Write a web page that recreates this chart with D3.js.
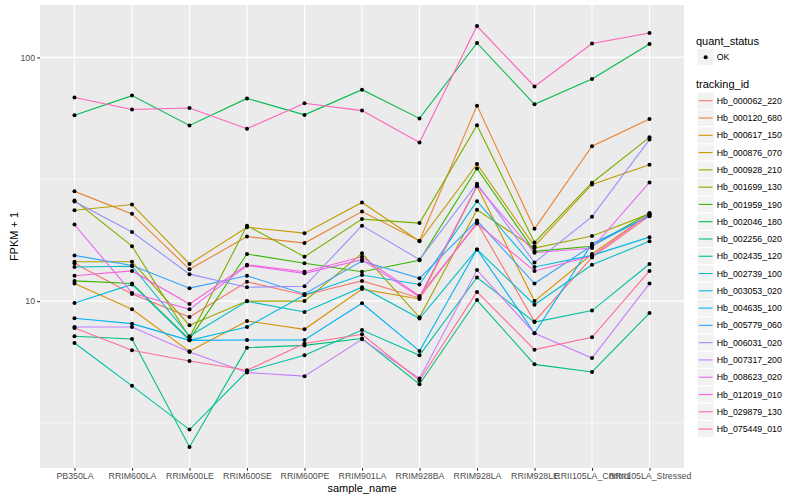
<!DOCTYPE html>
<html>
<head>
<meta charset="utf-8">
<script src="https://cdn.jsdelivr.net/npm/d3@7"></script>
<style>
  body { margin: 0; background: #fff; }
  svg { font-family: "Liberation Sans", Arial, Helvetica, sans-serif; }
</style>
</head>
<body>
<div id="chart"></div>
<script>
const samples = ["PB350LA", "RRIM600LA", "RRIM600LE", "RRIM600SE", "RRIM600PE", "RRIM901LA",
  "RRIM928BA", "RRIM928LA", "RRIM928LE", "RRII105LA_Control", "RRII105LA_Stressed"];

const trackingIds = ["Hb_000062_220", "Hb_000120_680", "Hb_000617_150", "Hb_000876_070",
  "Hb_000928_210", "Hb_001699_130", "Hb_001959_190", "Hb_002046_180", "Hb_002256_020",
  "Hb_002435_120", "Hb_002739_100", "Hb_003053_020", "Hb_004635_100", "Hb_005779_060",
  "Hb_006031_020", "Hb_007317_200", "Hb_008623_020", "Hb_012019_010", "Hb_029879_130",
  "Hb_075449_010"];

// ggplot default hue palette, 20 levels
const hueColors = ["#F8766D", "#EA8331", "#D89000", "#C09B00", "#A3A500", "#7CAE00", "#39B600",
  "#00BB4E", "#00BF7D", "#00C1A3", "#00BFC4", "#00BAE0", "#00B0F6", "#35A2FF", "#9590FF",
  "#C77CFF", "#E76BF3", "#FA62DB", "#FF62BC", "#FF6C91"];

// FPKM + 1 per sample
const hb000062_220 = [14.3, 10.7, 8.60, 12.0, 10.6, 12.1, 10.3, 21.0, 8.25, 15.1, 22.4];
const hb000120_680 = [28.2, 22.8, 13.5, 18.4, 17.3, 23.3, 17.7, 63.4, 19.8, 43.2, 55.9];
const hb000617_150 = [11.8, 9.25, 6.22, 8.28, 7.66, 11.2, 10.2, 29.6, 10.0, 15.6, 22.8];
const hb000876_070 = [23.6, 24.9, 14.2, 20.1, 19.0, 25.4, 17.6, 36.5, 16.8, 30.1, 36.3];
const hb000928_210 = [14.5, 14.5, 7.96, 10.0, 10.0, 15.7, 8.58, 23.7, 16.5, 18.5, 22.8];
const hb001699_130 = [25.9, 16.8, 7.10, 20.4, 15.2, 21.7, 20.9, 52.7, 17.4, 30.6, 47.0];
const hb001959_190 = [12.1, 11.8, 6.97, 15.6, 14.3, 13.2, 14.7, 35.0, 16.0, 16.8, 23.0];
const hb002046_180 = [57.9, 69.7, 52.6, 67.9, 58.1, 73.7, 56.2, 114.6, 64.2, 81.5, 113.5];
const hb002256_020 = [7.17, 6.99, 2.52, 6.44, 6.58, 7.02, 4.56, 10.1, 5.50, 5.12, 8.93];
const hb002435_120 = [6.73, 4.49, 2.97, 5.14, 5.99, 7.61, 5.99, 12.5, 8.20, 9.14, 14.2];
const hb002739_100 = [13.8, 13.9, 7.17, 9.98, 9.02, 11.4, 8.48, 16.3, 9.66, 14.1, 17.6];
const hb003053_020 = [9.82, 11.7, 6.90, 7.83, 10.6, 12.8, 11.7, 25.7, 13.8, 15.4, 18.3];
const hb004635_100 = [8.50, 8.08, 6.90, 6.92, 6.92, 9.80, 6.24, 16.3, 7.38, 17.2, 22.3];
const hb005779_060 = [15.4, 14.0, 11.3, 12.7, 10.7, 14.6, 12.4, 21.4, 11.8, 16.9, 22.4];
const hb006031_020 = [25.6, 19.2, 12.9, 11.4, 11.5, 20.4, 14.8, 30.3, 14.4, 22.2, 46.0];
const hb007317_200 = [7.83, 7.83, 6.18, 5.09, 4.92, 6.97, 4.81, 13.4, 7.38, 5.84, 11.8];
const hb008623_020 = [20.6, 10.8, 9.25, 14.0, 13.0, 14.8, 10.4, 29.8, 15.8, 16.5, 30.7];
const hb012019_010 = [12.7, 13.3, 9.73, 14.1, 13.2, 15.2, 10.5, 20.8, 13.3, 15.3, 22.8];
const hb029879_130 = [68.5, 61.1, 62.0, 51.0, 64.8, 60.5, 44.8, 134.5, 76.0, 114, 126];
const hb075449_010 = [7.76, 6.28, 5.68, 5.20, 6.70, 7.31, 4.72, 10.9, 6.32, 7.10, 13.3];

const seriesValues = [hb000062_220, hb000120_680, hb000617_150, hb000876_070, hb000928_210,
  hb001699_130, hb001959_190, hb002046_180, hb002256_020, hb002435_120, hb002739_100,
  hb003053_020, hb004635_100, hb005779_060, hb006031_020, hb007317_200, hb008623_020,
  hb012019_010, hb029879_130, hb075449_010];

const yBreaks = [10, 100];
const quantStatus = ["OK"];

const series = trackingIds.map((id, i) => ({
  id: id,
  color: hueColors[i],
  points: samples.map((s, j) => ({sample: s, value: seriesValues[i][j]}))
}));

const width = 800, height = 500;
const panel = {left: 40, right: 684, top: 5, bottom: 468};

const svg = d3.select("#chart").append("svg")
  .attr("width", width)
  .attr("height", height);

const x = d3.scalePoint()
  .domain(samples)
  .range([panel.left, panel.right])
  .padding(0.6);

// log10 scale, 5% expansion like ggplot
const allVals = seriesValues.flat();
const lmin = Math.log10(d3.min(allVals)), lmax = Math.log10(d3.max(allVals));
const pad = (lmax - lmin) * 0.05;
const y = d3.scaleLog()
  .domain([Math.pow(10, lmin - pad), Math.pow(10, lmax + pad)])
  .range([panel.bottom, panel.top]);

const yMinor = d3.range(-1, 4).map(k => Math.pow(10, k + 0.5))
  .filter(v => v >= y.domain()[0] && v <= y.domain()[1]);

// panel background
svg.append("rect")
  .attr("x", panel.left).attr("y", panel.top)
  .attr("width", panel.right - panel.left)
  .attr("height", panel.bottom - panel.top)
  .attr("fill", "#EBEBEB");

const grid = svg.append("g");
grid.selectAll("line.minor")
  .data(yMinor)
  .join("line")
  .attr("x1", panel.left).attr("x2", panel.right)
  .attr("y1", d => y(d)).attr("y2", d => y(d))
  .attr("stroke", "#fff").attr("stroke-width", 0.55);
grid.selectAll("line.majory")
  .data(yBreaks)
  .join("line")
  .attr("x1", panel.left).attr("x2", panel.right)
  .attr("y1", d => y(d)).attr("y2", d => y(d))
  .attr("stroke", "#fff").attr("stroke-width", 1.1);
grid.selectAll("line.majorx")
  .data(samples)
  .join("line")
  .attr("x1", d => x(d)).attr("x2", d => x(d))
  .attr("y1", panel.top).attr("y2", panel.bottom)
  .attr("stroke", "#fff").attr("stroke-width", 1.1);

// lines
const line = d3.line()
  .x(d => x(d.sample))
  .y(d => y(d.value));

svg.append("g")
  .selectAll("path")
  .data(series)
  .join("path")
  .attr("d", d => line(d.points))
  .attr("fill", "none")
  .attr("stroke", d => d.color)
  .attr("stroke-width", 1.1);

// points
svg.append("g")
  .selectAll("circle")
  .data(series.flatMap(s => s.points))
  .join("circle")
  .attr("cx", d => x(d.sample))
  .attr("cy", d => y(d.value))
  .attr("r", 2)
  .attr("fill", "#000");

// axes
const xAxis = svg.append("g")
  .attr("transform", `translate(0,${panel.bottom})`)
  .call(d3.axisBottom(x).tickSize(2.75).tickPadding(2.5));
const yAxis = svg.append("g")
  .attr("transform", `translate(${panel.left},0)`)
  .call(d3.axisLeft(y).tickValues(yBreaks).tickFormat(d3.format("d")).tickSize(2.75).tickPadding(2.2));

[xAxis, yAxis].forEach(g => {
  g.select(".domain").remove();
  g.selectAll(".tick line").attr("stroke", "#333333").attr("stroke-width", 1.1);
  g.selectAll(".tick text")
    .attr("fill", "#4D4D4D")
    .style("font-size", "8.8px")
    .style("font-family", "'Liberation Sans', Arial, sans-serif");
});

svg.append("text")
  .attr("x", (panel.left + panel.right) / 2)
  .attr("y", 492)
  .attr("text-anchor", "middle")
  .style("font-size", "11px")
  .text("sample_name");

svg.append("text")
  .attr("transform", `translate(18,${(panel.top + panel.bottom) / 2}) rotate(-90)`)
  .attr("text-anchor", "middle")
  .style("font-size", "11px")
  .text("FPKM + 1");

// legends
const keySize = 17.28;
const legend = svg.append("g").attr("transform", "translate(697,0)");

legend.append("text")
  .attr("x", -1).attr("y", 44.5)
  .style("font-size", "11px")
  .text("quant_status");

const qKey = legend.selectAll("g.q")
  .data(quantStatus)
  .join("g")
  .attr("transform", (d, i) => `translate(0,${48.5 + i * keySize})`);
qKey.append("rect")
  .attr("width", keySize).attr("height", keySize)
  .attr("fill", "#F2F2F2").attr("stroke", "#fff");
qKey.append("circle")
  .attr("cx", keySize / 2).attr("cy", keySize / 2)
  .attr("r", 2).attr("fill", "#000");
qKey.append("text")
  .attr("x", keySize + 2.5).attr("y", keySize / 2 + 3.1)
  .style("font-size", "8.8px")
  .text(d => d);

legend.append("text")
  .attr("x", -1).attr("y", 88.3)
  .style("font-size", "11px")
  .text("tracking_id");

const tKey = legend.selectAll("g.t")
  .data(series)
  .join("g")
  .attr("transform", (d, i) => `translate(0,${92.1 + i * keySize})`);
tKey.append("rect")
  .attr("width", keySize).attr("height", keySize)
  .attr("fill", "#F2F2F2").attr("stroke", "#fff");
tKey.append("line")
  .attr("x1", 1.7).attr("x2", keySize - 1.7)
  .attr("y1", keySize / 2).attr("y2", keySize / 2)
  .attr("stroke", d => d.color)
  .attr("stroke-width", 1.1);
tKey.append("text")
  .attr("x", keySize + 2.5).attr("y", keySize / 2 + 3.1)
  .style("font-size", "8.8px")
  .text(d => d.id);
</script>
</body>
</html>
